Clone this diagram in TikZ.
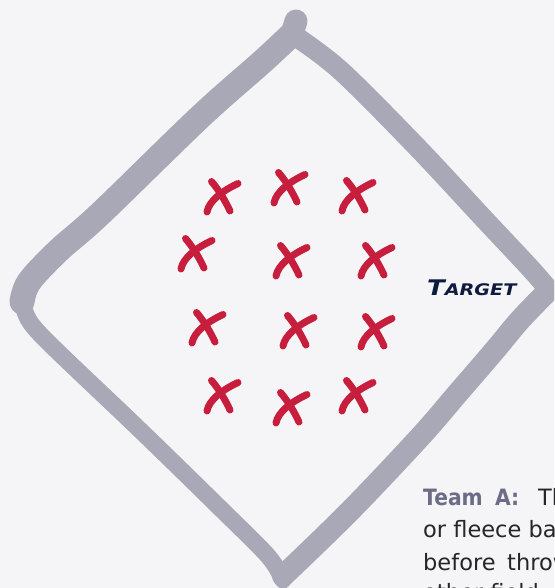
\documentclass[tikz,border=0pt]{standalone}
\usepackage{fontspec}
\setmainfont{DejaVu Sans}
\definecolor{bg}{RGB}{245,245,247}
\definecolor{framegray}{RGB}{168,168,182}
\definecolor{xred}{RGB}{200,30,62}
\definecolor{navy}{RGB}{14,27,61}
\definecolor{teamgray}{RGB}{108,108,135}
\definecolor{bodytext}{RGB}{38,38,40}
\tikzset{
  framestroke/.style={draw=framegray, line cap=round, line join=round},
  crossline/.style={draw=xred, line width=7pt, line cap=round},
  pics/redx/.style={code={
    \draw[crossline] (-15,15) .. controls (-13,4) and (0,-6) .. (16,-13.5);
    \draw[crossline] (-10.5,-15.5) .. controls (-4,-8) and (3,3) .. (8,14);
  }},
  bodyfont/.style={font=\fontsize{22.5}{26}\selectfont, text=bodytext, inner sep=0pt, anchor=base west},
  teamfont/.style={font=\fontsize{22.5}{26}\selectfont\bfseries, text=teamgray, inner sep=0pt, anchor=base west},
}
\begin{document}
\begin{tikzpicture}[x=1pt,y=-1pt]
\useasboundingbox (0,0) rectangle (554,588);
\fill[bg] (0,0) rectangle (554,588);
\clip (0,0) rectangle (554,588);

% frame (hand-drawn diamond)
\draw[framestroke, line width=20pt] plot[smooth, tension=0.55] coordinates
  {(292,34) (340,70) (415,145) (485,220) (530,268) (549,290)};
\draw[framestroke, line width=22pt] plot[smooth, tension=0.55] coordinates
  {(549,290) (520,320) (495,350) (458,393) (420,437) (350,511) (283,576)};
\draw[framestroke, line width=17pt] plot[smooth, tension=0.55] coordinates
  {(283,580) (268,556) (220,508) (140,430) (55,349) (30,322) (22,302)};
\draw[framestroke, line width=25pt] plot[smooth, tension=0.55] coordinates
  {(22,302) (29,282) (58,251) (100,214) (200,117) (262,62) (292,34)};
\draw[framestroke, line width=23pt] (292,34) -- (296,21);

% red crosses
\pic (x11) at (222,197) {redx};
\pic (x12) at (289,188) {redx};
\pic (x13) at (357,196) {redx};
\pic (x21) at (196,254) {redx};
\pic (x22) at (291,261) {redx};
\pic (x23) at (376,261) {redx};
\pic (x31) at (207,328) {redx};
\pic (x32) at (298,331) {redx};
\pic (x33) at (376,332) {redx};
\pic (x41) at (222,396) {redx};
\pic (x42) at (291,408) {redx};
\pic (x43) at (357,396) {redx};

% target label
\node[anchor=base west, inner sep=0pt, text=navy, font=\bfseries\itshape] (target) at (427,295)
  {\scalebox{1.2}[1]{\fontsize{21.5}{22}\selectfont T\fontsize{16}{16}\selectfont ARGET}};

% text block (clipped at the right and bottom)
\node[teamfont] (team) at (423,505) {\scalebox{0.9}[1]{Team}};
\node[teamfont] (teamA) at (495,505) {\scalebox{0.9}[1]{A:}};
\node[bodyfont] (l1) at (538,505) {The};
\node[bodyfont] (l2) at (423,537.5) {or fleece balls};
\node[bodyfont] (l3a) at (423,570) {before};
\node[bodyfont] (l3b) at (507,570) {throwing};
\node[bodyfont] (l4) at (423,600) {other field};
\end{tikzpicture}
\end{document}
